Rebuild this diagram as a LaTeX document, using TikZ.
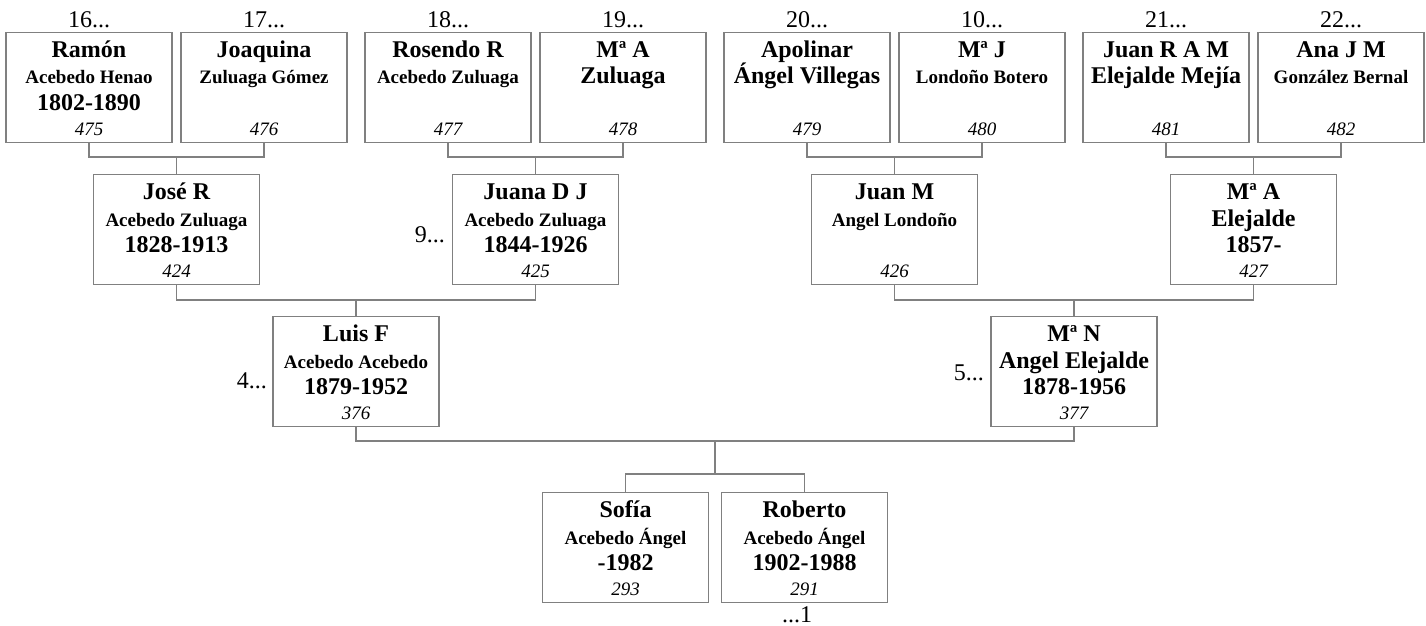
\documentclass[tikz,border=0pt]{standalone}
\usepackage{fontspec}
\setmainfont{Liberation Serif}
\definecolor{ln}{RGB}{128,128,128}
\newcommand\nmf{\fontsize{24}{28}\selectfont\bfseries}
\newcommand\smf{\fontsize{19}{22}\selectfont\bfseries}
\newcommand\idf{\fontsize{19}{22}\selectfont\itshape}
\newcommand\lbf{\fontsize{24}{28}\selectfont}
\newcommand\sm[1]{{\smf #1}}
\newcommand\pbox[7]{%
  \node[pbox] (#1) at (#2,#3) {};
  \node[txt,font=\nmf] (#1a) at ([yshift=-25pt]#1.north) {#4};
  \node[txt,font=\nmf] (#1b) at ([yshift=-52pt]#1.north) {#5};
  \node[txt,font=\nmf] (#1c) at ([yshift=-78pt]#1.north) {#6};
  \node[txt,font=\idf] (#1d) at ([yshift=-103pt]#1.north) {#7};
}
\newcommand\toplbl[2]{\node[lbl,anchor=base] (l#1) at ([yshift=4pt]#1.north) {#2};}
\begin{document}
\begin{tikzpicture}[x=1pt,y=-1pt,
  pbox/.style={draw=ln,line width=1.2pt,minimum width=166pt,minimum height=110pt,anchor=north,inner sep=0pt,fill=white},
  txt/.style={anchor=base,inner sep=0pt,text=black},
  lbl/.style={inner sep=0pt,font=\lbf,text=black},
  conn/.style={draw=ln,line width=1.2pt}]
\useasboundingbox[fill=white] (0,0) rectangle (1426,626);
% row 1
\pbox{b475}{89}{32}{Ramón}{\sm{Acebedo Henao}}{1802-1890}{475}
\pbox{b476}{264}{32}{Joaquina}{\sm{Zuluaga Gómez}}{}{476}
\pbox{b477}{448}{32}{Rosendo R}{\sm{Acebedo Zuluaga}}{}{477}
\pbox{b478}{623}{32}{Mª A}{Zuluaga}{}{478}
\pbox{b479}{807}{32}{Apolinar}{Ángel Villegas}{}{479}
\pbox{b480}{982}{32}{Mª J}{\sm{Londoño Botero}}{}{480}
\pbox{b481}{1166}{32}{Juan R A M}{Elejalde Mejía}{}{481}
\pbox{b482}{1341}{32}{Ana J M}{\sm{González Bernal}}{}{482}
% row 2
\pbox{b424}{176.5}{174}{José R}{\sm{Acebedo Zuluaga}}{1828-1913}{424}
\pbox{b425}{535.5}{174}{Juana D J}{\sm{Acebedo Zuluaga}}{1844-1926}{425}
\pbox{b426}{894.5}{174}{Juan M}{\sm{Angel Londoño}}{}{426}
\pbox{b427}{1253.5}{174}{Mª A}{Elejalde}{1857-}{427}
% row 3
\pbox{b376}{356}{316}{Luis F}{\sm{Acebedo Acebedo}}{1879-1952}{376}
\pbox{b377}{1074}{316}{Mª N}{Angel Elejalde}{1878-1956}{377}
% row 4
\pbox{b293}{625.5}{492}{Sofía}{\sm{Acebedo Ángel}}{-1982}{293}
\pbox{b291}{804.5}{492}{Roberto}{\sm{Acebedo Ángel}}{1902-1988}{291}
% labels
\toplbl{b475}{16...}
\toplbl{b476}{17...}
\toplbl{b477}{18...}
\toplbl{b478}{19...}
\toplbl{b479}{20...}
\toplbl{b480}{10...}
\toplbl{b481}{21...}
\toplbl{b482}{22...}
\node[lbl,anchor=base east] (l425) at (445,242) {9...};
\node[lbl,anchor=base east] (l376) at (267,388) {4...};
\node[lbl,anchor=base east] (l377) at (984,380) {5...};
\node[lbl,anchor=base] (l291) at (797,622) {...1};
% connectors
\coordinate (h1) at (0,157);
\coordinate (h2) at (0,300);
\coordinate (h3) at (0,441);
\coordinate (h4) at (0,474);
\coordinate (j1) at (b424.north |- h1);
\coordinate (j2) at (b425.north |- h1);
\coordinate (j3) at (b426.north |- h1);
\coordinate (j4) at (b427.north |- h1);
\coordinate (j5) at (b376.north |- h2);
\coordinate (j6) at (b377.north |- h2);
\coordinate (j7) at (715,441);
\coordinate (j8) at (715,474);
\draw[conn] (b475.south) |- (j1) -| (b476.south); \draw[conn] (j1) -- (b424.north);
\draw[conn] (b477.south) |- (j2) -| (b478.south); \draw[conn] (j2) -- (b425.north);
\draw[conn] (b479.south) |- (j3) -| (b480.south); \draw[conn] (j3) -- (b426.north);
\draw[conn] (b481.south) |- (j4) -| (b482.south); \draw[conn] (j4) -- (b427.north);
\draw[conn] (b424.south) |- (j5) -| (b425.south); \draw[conn] (j5) -- (b376.north);
\draw[conn] (b426.south) |- (j6) -| (b427.south); \draw[conn] (j6) -- (b377.north);
\draw[conn] (b376.south) |- (j7) -| (b377.south); \draw[conn] (j7) -- (j8);
\draw[conn] (b293.north) |- (j8) -| (b291.north);
\end{tikzpicture}
\end{document}
